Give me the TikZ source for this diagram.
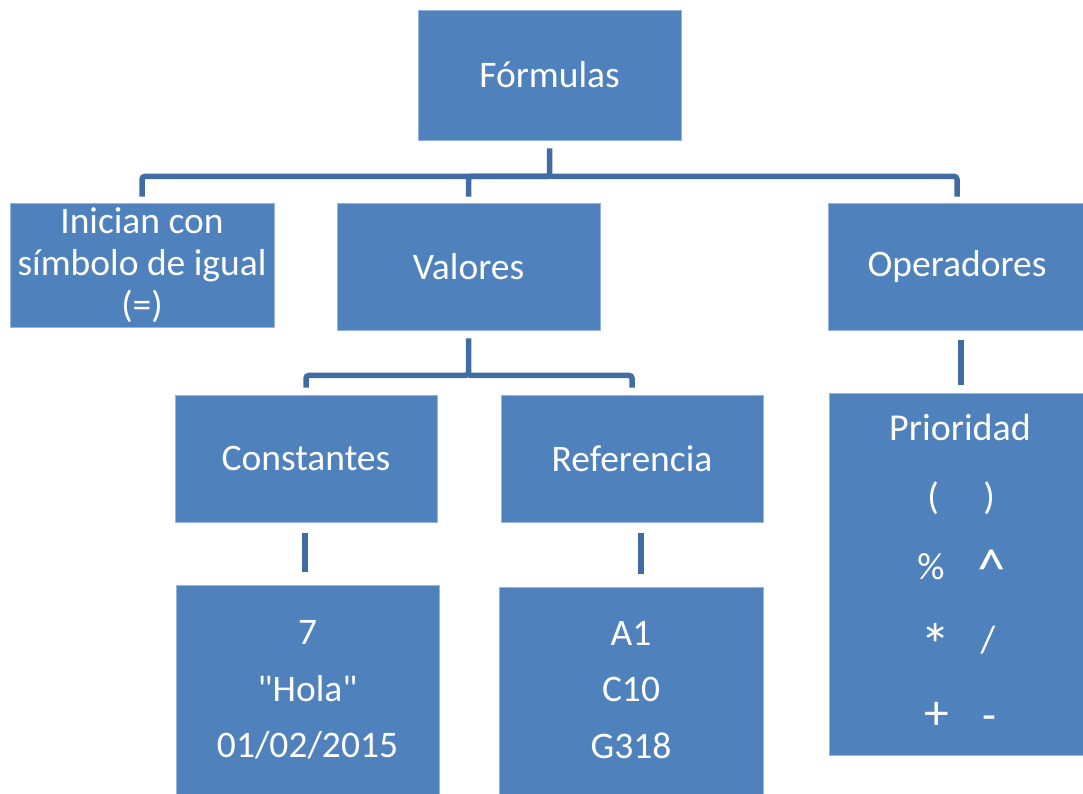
\documentclass[tikz,border=0pt]{standalone}
\usepackage{fontspec}
\setmainfont{Carlito}
\newfontfamily\plaincarlito{Carlito}[Ligatures=TeXOff]
\definecolor{boxblue}{RGB}{79,129,189}
\definecolor{boxedge}{RGB}{150,180,220}
\definecolor{connblue}{RGB}{65,108,163}
\begin{document}
\begin{tikzpicture}[x=1pt,y=-1pt,
  box/.style={fill=boxblue,draw=boxedge,line width=0.8pt,inner sep=0pt,
    text=white,align=center,font=\fontsize{37.5}{42}\selectfont},
  txt/.style={text=white,inner sep=0pt,align=center,font=\fontsize{38}{42}\selectfont},
  conn/.style={draw=connblue,line width=5.5pt,rounded corners=3pt}]
\useasboundingbox (0,0) rectangle (1083,794);
\clip (0,0) rectangle (1083,794);
% boxes
\node[box,minimum width=263,minimum height=130] (formulas) at (549.5,75) {Fórmulas};
\node[box,minimum width=264,minimum height=124] (inician) at (142,265) {Inician con\\símbolo de igual\\(=)};
\node[box,minimum width=263,minimum height=127] (valores) at (468.5,266.5) {Valores};
\node[box,minimum width=258,minimum height=127] (operadores) at (957,266.5) {Operadores};
\node[box,minimum width=262,minimum height=127] (constantes) at (306,458.5) {Constantes};
\node[box,minimum width=262,minimum height=127] (referencia) at (632,458.5) {Referencia};
\node[box,minimum width=264,minimum height=362] (prioridad) at (961,574) {};
\node[box,minimum width=263,minimum height=240] (constvals) at (307.5,705) {};
\node[box,minimum width=264,minimum height=240] (refvals) at (631,707) {};
% texts inside the lower boxes
\node[txt,font=\fontsize{37.5}{56.5}\selectfont] (constvalstext) at (307.5,690) {7\\{\plaincarlito "Hola"}\\01/02/2015};
\node[txt,font=\fontsize{37.5}{56.5}\selectfont] (refvalstext) at (631,690) {A1\\C10\\G318};
\node[txt] (priotitle) at (960,427) {Prioridad};
\node[txt] (pl1) at (933,498) {(};
\node[txt] (pr1) at (989,498) {)};
\node[txt] (pl2) at (931,567) {\%};
\node[txt] (pr2) at (992,569) {\scalebox{1.5}{\^{}}};
\node[txt] (pl3) at (936,645) {\scalebox{1.6}{*}};
\node[txt] (pr3) at (988,640) {/};
\node[txt] (pl4) at (937,716) {\scalebox{1.3}{+}};
\node[txt] (pr4) at (989,723) {\scalebox{1.2}{-}};
% connectors
\coordinate (refline) at (641,0);
\coordinate (constline) at (305,0);
\draw[conn,shorten <=8pt,shorten >=6pt] (formulas.south) -- ++(0,36) -| (inician.north);
\draw[conn,shorten >=6pt] (formulas.south) ++(0,36) -| (valores.north);
\draw[conn,shorten >=6pt] (formulas.south) ++(0,36) -| (operadores.north);
\draw[conn,shorten <=8pt,shorten >=7pt] (valores.south) -- ++(0,45) -| (constantes.north);
\draw[conn,shorten >=7pt] (valores.south) ++(0,45) -| (referencia.north);
\draw[conn,shorten <=10pt,shorten >=8pt] (operadores.south -| prioridad.north) -- (prioridad.north);
\draw[conn,shorten <=11pt,shorten >=13pt] (constantes.south -| constline) -- (constvals.north -| constline);
\draw[conn,shorten <=11pt,shorten >=13pt] (referencia.south -| refline) -- (refvals.north -| refline);
\end{tikzpicture}
\end{document}
